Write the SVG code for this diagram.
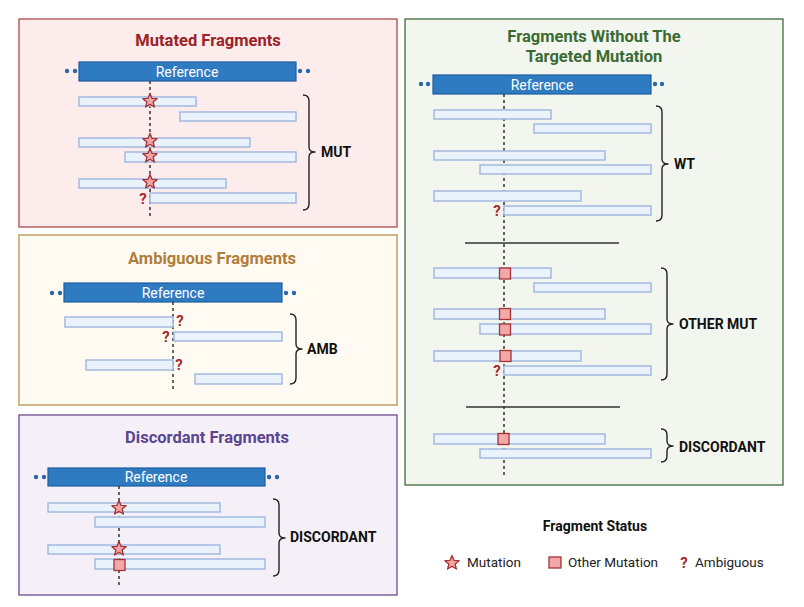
<svg xmlns="http://www.w3.org/2000/svg" xmlns:xlink="http://www.w3.org/1999/xlink" width="804" height="607" viewBox="0 0 804 607">
<style>
text{font-family:Roboto,"Liberation Sans",sans-serif}
.ref{fill:#2F7BC2;stroke:#1F5C9E;stroke-width:1.2}
.reft{fill:#fff;font-size:14px;text-anchor:middle}
.dot{fill:#2A67A8}
.frag{fill:#EAF2FB;stroke:#A3B9E0;stroke-width:1.5}
.dash{stroke:#333;stroke-width:1.5;stroke-dasharray:3 3;fill:none}
.brace{fill:none;stroke:#222;stroke-width:1.4;stroke-linejoin:round}
.lab{font-size:14px;font-weight:bold;fill:#111}
.star{fill:#F2A5A5;stroke:#A63232;stroke-width:1.3;stroke-linejoin:round}
.sq{fill:#F0A8A8;stroke:#A63232;stroke-width:1.3}
.q{font-size:15px;font-weight:bold;fill:#A52A2A;text-anchor:middle}
.sep{stroke:#333;stroke-width:1.5}
.leg{font-size:13.5px;fill:#222}
.title{font-size:16.5px;font-weight:bold;text-anchor:middle}
</style>
<defs>
<path id="star" class="star" d="M0,-7.5 L1.94,-2.67 L7.13,-2.32 L3.14,1.02 L4.41,6.07 L0,3.3 L-4.41,6.07 L-3.14,1.02 L-7.13,-2.32 L-1.94,-2.67 Z"/>
<rect id="sq" class="sq" x="-5.5" y="-5.5" width="11" height="11"/>
</defs>

<!-- Panel: Mutated -->
<g id="panel-mutated">
<rect x="19" y="19" width="378" height="208" fill="#FDECEC" stroke="#B04A4A" stroke-width="1.3"/>
<text class="title" x="208" y="46" fill="#9B2226">Mutated Fragments</text>
<rect class="ref" x="79" y="62" width="217" height="19"/>
<text class="reft" x="187" y="76.5">Reference</text>
<circle class="dot" cx="67" cy="71" r="2.2"/><circle class="dot" cx="75" cy="71" r="2.2"/>
<circle class="dot" cx="300" cy="71" r="2.2"/><circle class="dot" cx="308" cy="71" r="2.2"/>
<line class="dash" x1="150" y1="81" x2="150" y2="218"/>
<rect class="frag" x="79" y="97" width="117" height="9"/>
<rect class="frag" x="180" y="112" width="116" height="9"/>
<rect class="frag" x="79" y="138" width="171" height="9"/>
<rect class="frag" x="125" y="152" width="171" height="10"/>
<rect class="frag" x="79" y="179" width="147" height="9"/>
<rect class="frag" x="150" y="193" width="146" height="10"/>
<use xlink:href="#star" x="150" y="101"/>
<use xlink:href="#star" x="150" y="141"/>
<use xlink:href="#star" x="150" y="156"/>
<use xlink:href="#star" x="150" y="182"/>
<text class="q" x="143" y="204">?</text>
<text class="lab" x="321" y="157">MUT</text>
</g>

<!-- Panel: Ambiguous -->
<g id="panel-ambiguous">
<rect x="19" y="235" width="378" height="170" fill="#FFFBF2" stroke="#B8904A" stroke-width="1.3"/>
<text class="title" x="212" y="264" fill="#B07D3A">Ambiguous Fragments</text>
<rect class="ref" x="64" y="283" width="218" height="19"/>
<text class="reft" x="173" y="297.5">Reference</text>
<circle class="dot" cx="52" cy="293" r="2.2"/><circle class="dot" cx="60" cy="293" r="2.2"/>
<circle class="dot" cx="286" cy="293" r="2.2"/><circle class="dot" cx="294" cy="293" r="2.2"/>
<line class="dash" x1="173" y1="302" x2="173" y2="390"/>
<rect class="frag" x="65" y="317" width="108" height="10"/>
<rect class="frag" x="174" y="332" width="108" height="9"/>
<rect class="frag" x="86" y="360" width="87" height="10"/>
<rect class="frag" x="195" y="374" width="87" height="10"/>
<text class="q" x="180" y="326">?</text>
<text class="q" x="166" y="342">?</text>
<text class="q" x="179" y="370">?</text>
<text class="lab" x="307" y="354">AMB</text>
</g>

<!-- Panel: Discordant -->
<g id="panel-discordant">
<rect x="19" y="415" width="378" height="180" fill="#F5F0F8" stroke="#6A4C93" stroke-width="1.3"/>
<text class="title" x="207" y="443" fill="#5B4591">Discordant Fragments</text>
<rect class="ref" x="48" y="468" width="217" height="18"/>
<text class="reft" x="156" y="481.5">Reference</text>
<circle class="dot" cx="36" cy="477" r="2.2"/><circle class="dot" cx="44" cy="477" r="2.2"/>
<circle class="dot" cx="269" cy="477" r="2.2"/><circle class="dot" cx="277" cy="477" r="2.2"/>
<line class="dash" x1="119" y1="486" x2="119" y2="586"/>
<rect class="frag" x="48" y="503" width="172" height="9"/>
<rect class="frag" x="95" y="517" width="170" height="10"/>
<rect class="frag" x="48" y="545" width="172" height="9"/>
<rect class="frag" x="95" y="559" width="170" height="10"/>
<use xlink:href="#star" x="119" y="508"/>
<use xlink:href="#star" x="119" y="549"/>
<use xlink:href="#sq" x="119.5" y="565"/>
<text class="lab" x="290" y="542">DISCORDANT</text>
</g>

<!-- Panel: Without targeted mutation -->
<g id="panel-without">
<rect x="405" y="19" width="378" height="466" fill="#F3F6EE" stroke="#3E6B3E" stroke-width="1.3"/>
<text class="title" x="594" y="42" fill="#3B6B35">Fragments Without The</text>
<text class="title" x="594" y="62" fill="#3B6B35">Targeted Mutation</text>
<rect class="ref" x="433" y="75" width="218" height="19"/>
<text class="reft" x="542" y="89.5">Reference</text>
<circle class="dot" cx="421" cy="84" r="2.2"/><circle class="dot" cx="428" cy="84" r="2.2"/>
<circle class="dot" cx="655" cy="84" r="2.2"/><circle class="dot" cx="662" cy="84" r="2.2"/>
<line class="dash" x1="504" y1="94" x2="504" y2="475"/>
<rect class="frag" x="434" y="110" width="117" height="9"/>
<rect class="frag" x="534" y="124" width="117" height="9"/>
<rect class="frag" x="434" y="151" width="171" height="9"/>
<rect class="frag" x="480" y="165" width="171" height="9"/>
<rect class="frag" x="434" y="191" width="147" height="10"/>
<rect class="frag" x="504" y="206" width="147" height="9"/>
<text class="q" x="497" y="216">?</text>
<text class="lab" x="674" y="169">WT</text>
<line class="sep" x1="465" y1="243" x2="619" y2="243"/>
<rect class="frag" x="434" y="268" width="117" height="10"/>
<rect class="frag" x="534" y="283" width="117" height="9"/>
<rect class="frag" x="434" y="309" width="171" height="10"/>
<rect class="frag" x="480" y="324" width="171" height="10"/>
<rect class="frag" x="434" y="351" width="147" height="10"/>
<rect class="frag" x="504" y="366" width="147" height="9"/>
<use xlink:href="#sq" x="505" y="273.5"/>
<use xlink:href="#sq" x="505" y="314"/>
<use xlink:href="#sq" x="505" y="329.5"/>
<use xlink:href="#sq" x="505.5" y="356"/>
<text class="q" x="497" y="376">?</text>
<text class="lab" x="679" y="329">OTHER MUT</text>
<line class="sep" x1="466" y1="407" x2="620" y2="407"/>
<rect class="frag" x="434" y="434" width="171" height="10"/>
<rect class="frag" x="480" y="449" width="171" height="9"/>
<use xlink:href="#sq" x="503.5" y="439"/>
<text class="lab" x="679" y="452">DISCORDANT</text>
</g>

<!-- Legend -->
<g id="legend">
<text x="595" y="531" text-anchor="middle" font-size="14" font-weight="bold" fill="#111">Fragment Status</text>
<use xlink:href="#star" x="452" y="563"/>
<text class="leg" x="467" y="567">Mutation</text>
<rect class="sq" x="549" y="557" width="12" height="11"/>
<text class="leg" x="568" y="567">Other Mutation</text>
<text class="q" x="684" y="568">?</text>
<text class="leg" x="695" y="567">Ambiguous</text>
</g>

<!-- Braces -->
<g id="connectors">
<path class="brace" d="M303,95 Q309,95 309,101 L309,147 Q309,152 315,152 Q309,152 309,157 L309,204 Q309,210 303,210"/>
<path class="brace" d="M290,314 Q296,314 296,320 L296,344 Q296,349 302,349 Q296,349 296,354 L296,378 Q296,384 290,384"/>
<path class="brace" d="M273,499 Q279,499 279,505 L279,533 Q279,538 285,538 Q279,538 279,543 L279,570 Q279,576 273,576"/>
<path class="brace" d="M656,106 Q662,106 662,112 L662,159 Q662,164 668,164 Q662,164 662,169 L662,215 Q662,221 656,221"/>
<path class="brace" d="M661,268 Q667,268 667,274 L667,319 Q667,324 673,324 Q667,324 667,329 L667,374 Q667,380 661,380"/>
<path class="brace" d="M661,429 Q667,429 667,435 L667,441 Q667,446 673,446 Q667,446 667,451 L667,456 Q667,462 661,462"/>
</g>
</svg>
